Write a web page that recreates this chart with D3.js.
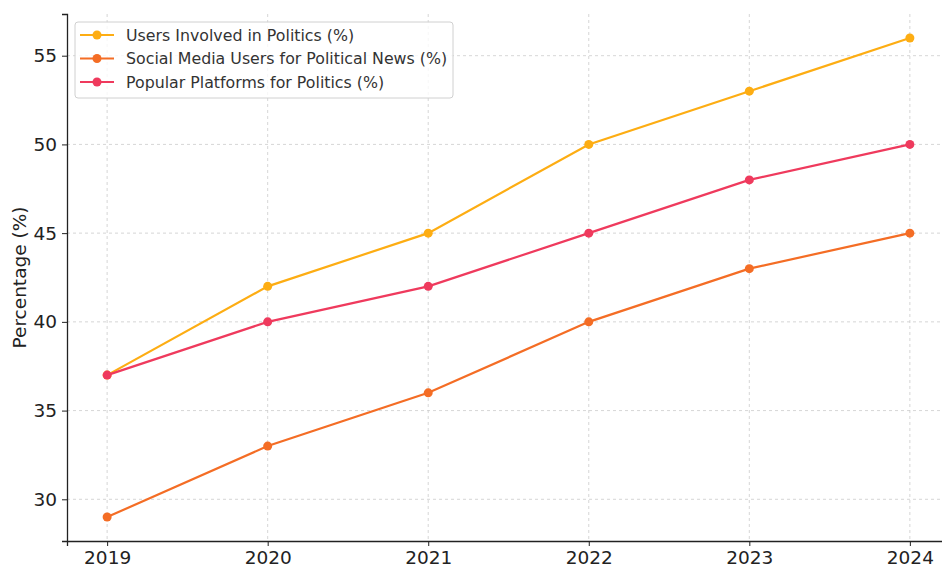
<!DOCTYPE html>
<html>
<head>
<meta charset="utf-8">
<script src="https://cdn.jsdelivr.net/npm/d3@7"></script>
<style>
  body { margin: 0; background: #fff; }
  text { font-family: "DejaVu Sans", sans-serif; }
</style>
</head>
<body>
<svg id="chart" width="942" height="564"></svg>
<script>
const years = [2019, 2020, 2021, 2022, 2023, 2024];
const usersInvolved = [37, 42, 45, 50, 53, 56];
const socialMediaNews = [29, 33, 36, 40, 43, 45];
const popularPlatforms = [37, 40, 42, 45, 48, 50];
const yTicks = [30, 35, 40, 45, 50, 55];

const series = [
  { name: "Users Involved in Politics (%)", values: usersInvolved, color: "#FDAD13" },
  { name: "Social Media Users for Political News (%)", values: socialMediaNews, color: "#F46D25" },
  { name: "Popular Platforms for Politics (%)", values: popularPlatforms, color: "#EF3A5D" }
];

const svg = d3.select("#chart");
const plotLeft = 67, plotRight = 950, plotTop = 14, plotBottom = 541;

const x = d3.scaleLinear().domain([2018.75, 2024.25]).range([plotLeft, plotRight]);
const y = d3.scaleLinear().domain([27.65, 57.35]).range([plotBottom, plotTop]);

// grid
const grid = svg.append("g");
grid.selectAll("line.v").data(years).enter().append("line")
  .attr("x1", d => x(d)).attr("x2", d => x(d))
  .attr("y1", plotTop).attr("y2", plotBottom)
  .attr("stroke", "#cccccc").attr("stroke-width", 0.8).attr("stroke-dasharray", "3,3");
grid.selectAll("line.h").data(yTicks).enter().append("line")
  .attr("x1", plotLeft).attr("x2", 942)
  .attr("y1", d => y(d)).attr("y2", d => y(d))
  .attr("stroke", "#cccccc").attr("stroke-width", 0.8).attr("stroke-dasharray", "3,3");

// axes
const xAxis = svg.append("g")
  .attr("transform", `translate(0,${plotBottom})`)
  .call(d3.axisBottom(x).tickValues(years).tickFormat(d3.format("d")).tickSizeOuter(0).tickSize(5).tickPadding(5));
const yAxis = svg.append("g")
  .attr("transform", `translate(${plotLeft},0)`)
  .call(d3.axisLeft(y).tickValues(yTicks).tickSizeOuter(0).tickSize(5).tickPadding(5));
[xAxis, yAxis].forEach(a => {
  a.selectAll("text").style("font-size", "18.5px").attr("fill", "#222");
  a.selectAll("line").attr("stroke", "#222");
  a.select(".domain").attr("stroke", "#222").attr("stroke-width", 1.3);
});

svg.append("text")
  .attr("transform", `translate(26,${(plotTop + plotBottom) / 2}) rotate(-90)`)
  .attr("text-anchor", "middle")
  .style("font-size", "18.5px")
  .attr("fill", "#222")
  .text("Percentage (%)");

// lines
const line = d3.line().x((d, i) => x(years[i])).y(d => y(d));
series.forEach(s => {
  svg.append("path").datum(s.values)
    .attr("d", line).attr("fill", "none")
    .attr("stroke", s.color).attr("stroke-width", 2.2);
  svg.selectAll(null).data(s.values).enter().append("circle")
    .attr("cx", (d, i) => x(years[i])).attr("cy", d => y(d))
    .attr("r", 4.5).attr("fill", s.color);
});

// legend
const lg = svg.append("g").attr("transform", "translate(75,22)");
lg.append("rect").attr("width", 378).attr("height", 76).attr("rx", 3)
  .attr("fill", "#fff").attr("fill-opacity", 0.8)
  .attr("stroke", "#d0d0d0");
series.forEach((s, i) => {
  const cy = 13 + i * 23.5;
  lg.append("line").attr("x1", 5).attr("x2", 39).attr("y1", cy).attr("y2", cy)
    .attr("stroke", s.color).attr("stroke-width", 2.2);
  lg.append("circle").attr("cx", 22).attr("cy", cy).attr("r", 4.5).attr("fill", s.color);
  lg.append("text").attr("x", 51).attr("y", cy).attr("dy", "0.35em")
    .style("font-size", "15.8px").attr("fill", "#333").text(s.name);
});
</script>
</body>
</html>
